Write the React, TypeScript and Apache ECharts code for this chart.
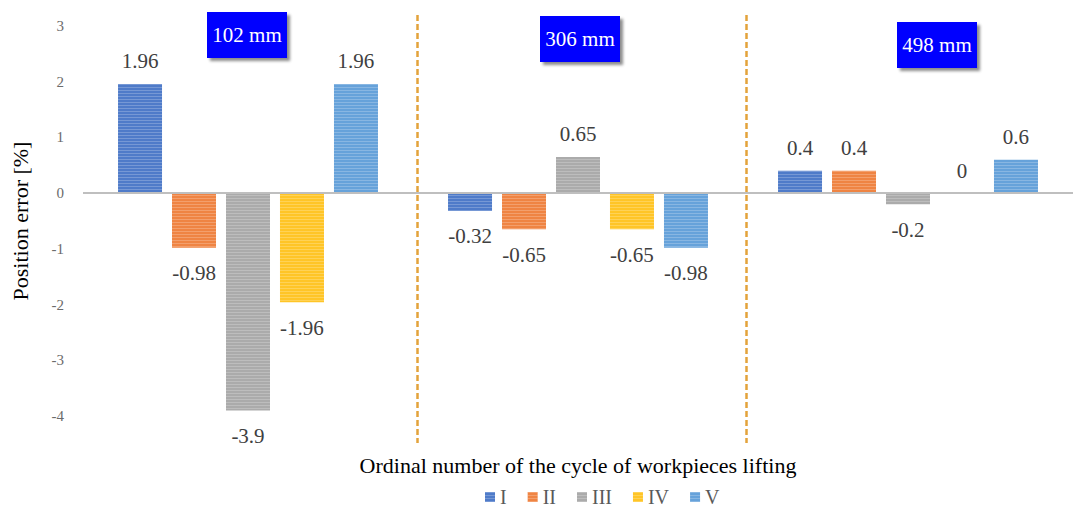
import React, { useEffect, useRef } from "react";
import * as echarts from "echarts";

const categories = ["102 mm", "306 mm", "498 mm"];
const seriesNames = ["I", "II", "III", "IV", "V"];
const valuesI = [1.96, -0.32, 0.4];
const valuesII = [-0.98, -0.65, 0.4];
const valuesIII = [-3.9, 0.65, -0.2];
const valuesIV = [-1.96, -0.65, 0];
const valuesV = [1.96, -0.98, 0.6];
const yTicks = [-4, -3, -2, -1, 0, 1, 2, 3];

const allValues = [valuesI, valuesII, valuesIII, valuesIV, valuesV];
const barColors = ["#4F7BC9", "#EF8443", "#ABABAB", "#FFC527", "#66A2DA"];
const legendColors = ["#4472C4", "#ED7D31", "#A5A5A5", "#FFC000", "#5B9BD5"];

const FONT = "Liberation Serif";

export default function App() {
  const ref = useRef<HTMLDivElement>(null);

  useEffect(() => {
    if (!ref.current) return;
    const chart = echarts.init(ref.current, null, { renderer: "svg" });

    const series: any[] = allValues.map((vals, i) => ({
      name: seriesNames[i],
      type: "bar",
      barWidth: 44,
      barGap: "22.7%",
      color: legendColors[i],
      itemStyle: {
        color: barColors[i],
        decal: {
          symbol: "rect",
          symbolSize: 1,
          dashArrayX: [[1, 0]],
          dashArrayY: [1, 2],
          rotation: 0,
          color: "rgba(255,255,255,0.22)",
        },
      },
      data: vals.map((v) => ({
        value: v,
        label: { position: v < 0 ? "bottom" : "top", distance: v < 0 ? 15 : 12 },
      })),
      label: {
        show: true,
        fontFamily: FONT,
        fontSize: 21,
        color: "#404040",
        formatter: (p: any) => String(p.value),
      },
      ...(i === 0
        ? {
            markLine: {
              silent: true,
              symbol: "none",
              label: { show: false },
              lineStyle: { color: "#BFBFBF", width: 2, type: "solid" },
              data: [{ yAxis: 0 }],
            },
          }
        : {}),
    }));

    const box = (x: number, y: number, text: string) => ({
      type: "group",
      x,
      y,
      children: [
        {
          type: "rect",
          shape: { x: 0, y: 0, width: 80, height: 46 },
          style: {
            fill: "#0000FF",
            shadowBlur: 3,
            shadowOffsetX: 3,
            shadowOffsetY: 3,
            shadowColor: "rgba(0,0,0,0.45)",
          },
        },
        {
          type: "text",
          x: 40,
          y: 23,
          style: {
            text,
            fill: "#FFFFFF",
            fontFamily: FONT,
            fontSize: 21,
            align: "center",
            verticalAlign: "middle",
          },
        },
      ],
    });

    const option: any = {
      animation: false,
      backgroundColor: "#FFFFFF",
      textStyle: { fontFamily: FONT },
      grid: { left: 83, top: 26, width: 999, height: 390, containLabel: false },
      legend: {
        data: seriesNames,
        left: 480,
        top: 482,
        itemWidth: 10,
        itemHeight: 10,
        itemGap: 21,
        icon: "rect",
        textStyle: { fontFamily: FONT, fontSize: 20, color: "#595959" },
      },
      xAxis: {
        type: "category",
        data: categories,
        axisLine: { show: false, onZero: false },
        axisTick: { show: false },
        axisLabel: { show: false },
        name: "Ordinal number of the cycle of workpieces lifting",
        nameLocation: "middle",
        nameGap: 38,
        nameTextStyle: { fontFamily: FONT, fontSize: 22, color: "#000000" },
      },
      yAxis: {
        type: "value",
        min: yTicks[0],
        max: yTicks[yTicks.length - 1],
        interval: 1,
        axisLine: { show: false },
        axisTick: { show: false },
        splitLine: { show: false },
        axisLabel: { margin: 19, fontFamily: FONT, fontSize: 15, color: "#6B6B6B" },
        name: "Position error [%]",
        nameLocation: "middle",
        nameGap: 52,
        nameTextStyle: { fontFamily: FONT, fontSize: 22, color: "#000000" },
      },
      series,
      graphic: [
        {
          type: "line",
          shape: { x1: 417.5, y1: 15, x2: 417.5, y2: 443 },
          style: { stroke: "#E3A33B", lineWidth: 2.5, lineDash: [6, 3] },
        },
        {
          type: "line",
          shape: { x1: 746.5, y1: 15, x2: 746.5, y2: 443 },
          style: { stroke: "#E3A33B", lineWidth: 2.5, lineDash: [6, 3] },
        },
        box(207, 12, categories[0]),
        box(540, 16, categories[1]),
        box(897, 22, categories[2]),
      ],
    };

    chart.setOption(option);
    return () => chart.dispose();
  }, []);

  return (
    <div
      ref={ref}
      style={{ position: "absolute", left: 0, top: 0, width: 1073, height: 513 }}
    />
  );
}
